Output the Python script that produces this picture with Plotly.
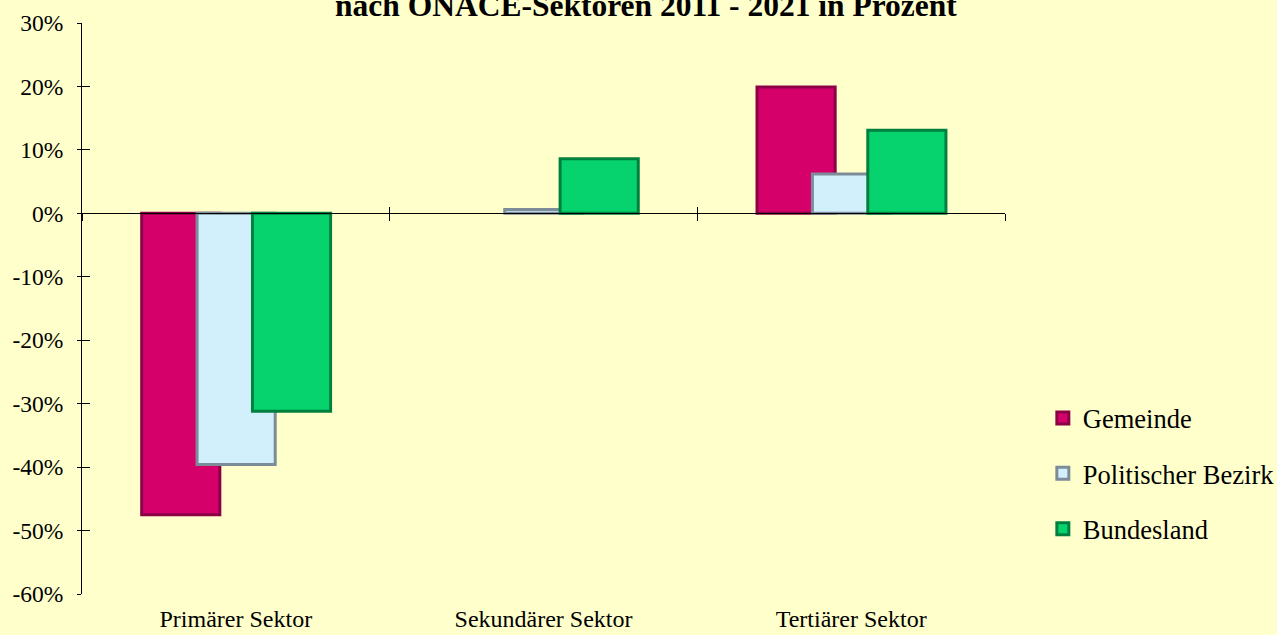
import plotly.graph_objects as go

categories = ["Primärer Sektor", "Sekundärer Sektor", "Tertiärer Sektor"]
series_names = ["Gemeinde", "Politischer Bezirk", "Bundesland"]
gemeinde = [-47.5, None, 19.9]
bezirk = [-39.6, 0.6, 6.2]
bundesland = [-31.2, 8.6, 13.1]
y_tickvals = [30, 20, 10, 0, -10, -20, -30, -40, -50, -60]
y_ticktext = ["30%", "20%", "10%", "0%", "-10%", "-20%", "-30%", "-40%", "-50%", "-60%"]
title_text = "nach ÖNACE-Sektoren 2011 - 2021 in Prozent"

fills = ["#D6006A", "#D2F0FC", "#06D36E"]
edges = ["#8C0046", "#7D8C99", "#00803F"]
offsets = [-0.306, -0.126, 0.054]
bar_w = 0.254

BG = "#FFFFCC"
FONT = "Liberation Serif"

fig = go.Figure()
for i, (name, vals) in enumerate(zip(series_names, [gemeinde, bezirk, bundesland])):
    fig.add_trace(go.Bar(
        x=categories, y=vals, name=name,
        offset=offsets[i], width=bar_w,
        marker=dict(color=fills[i], line=dict(color=edges[i], width=3)),
        legendgroup=name,
    ))

# helper invisible traces so the overlay axes are drawn
fig.add_trace(go.Scatter(x=[-0.5, 2.5], y=[0, 0], xaxis="x2", yaxis="y2",
                         mode="none", showlegend=False, hoverinfo="skip"))
fig.add_trace(go.Scatter(x=[-0.5, 2.5], y=[0, 0], xaxis="x3", yaxis="y2",
                         mode="none", showlegend=False, hoverinfo="skip"))

fig.update_layout(
    width=1277, height=635,
    barmode="overlay",
    paper_bgcolor=BG, plot_bgcolor=BG,
    margin=dict(l=82, r=272, t=23, b=40.5, autoexpand=False),
    font=dict(family=FONT, color="#000000", size=23.5),
    showlegend=True,
    legend=dict(x=1.041, xanchor="left", xref="paper", y=0.35, yanchor="top",
                font=dict(size=26.5, family=FONT), bgcolor="rgba(0,0,0,0)",
                tracegroupgap=18, traceorder="grouped"),
    xaxis=dict(type="category", categoryorder="array", categoryarray=categories,
               range=[-0.5, 2.5], showline=False, ticks="", showgrid=False,
               zeroline=False, tickfont=dict(size=24, family=FONT),
               ticklabelstandoff=8, automargin=False),
    yaxis=dict(range=[-60, 30], tickvals=y_tickvals, ticktext=y_ticktext,
               showgrid=False, zeroline=False, showline=True, linecolor="#000000",
               linewidth=1, ticks="outside", ticklen=4, tickcolor="#000000",
               tickfont=dict(size=23.5, family=FONT), ticklabelstandoff=9,
               automargin=False),
    yaxis2=dict(range=[-60, 30], overlaying="y", anchor="x", side="left",
                tickvals=y_tickvals, showticklabels=False, showgrid=False,
                zeroline=False, showline=False, ticks="inside", ticklen=8,
                tickcolor="#000000"),
    xaxis2=dict(range=[-0.5, 2.5], overlaying="x", anchor="free", position=2/3,
                tickvals=[-0.5, 0.5, 1.5, 2.5], showticklabels=False,
                showgrid=False, zeroline=False, showline=True, linecolor="#000000",
                linewidth=1, ticks="outside", ticklen=7, tickcolor="#000000"),
    xaxis3=dict(range=[-0.5, 2.5], overlaying="x", anchor="free", position=2/3,
                tickvals=[0.5, 1.5, 2.5], showticklabels=False,
                showgrid=False, zeroline=False, showline=False,
                ticks="inside", ticklen=6, tickcolor="#000000"),
    annotations=[dict(text="<b>" + title_text + "</b>", xref="paper", yref="paper",
                      x=0.611, y=1.0, xanchor="center", yanchor="bottom",
                      yshift=-2, showarrow=False,
                      font=dict(size=31.5, family=FONT, color="#000000"))],
)

fig.write_html("out.html")
